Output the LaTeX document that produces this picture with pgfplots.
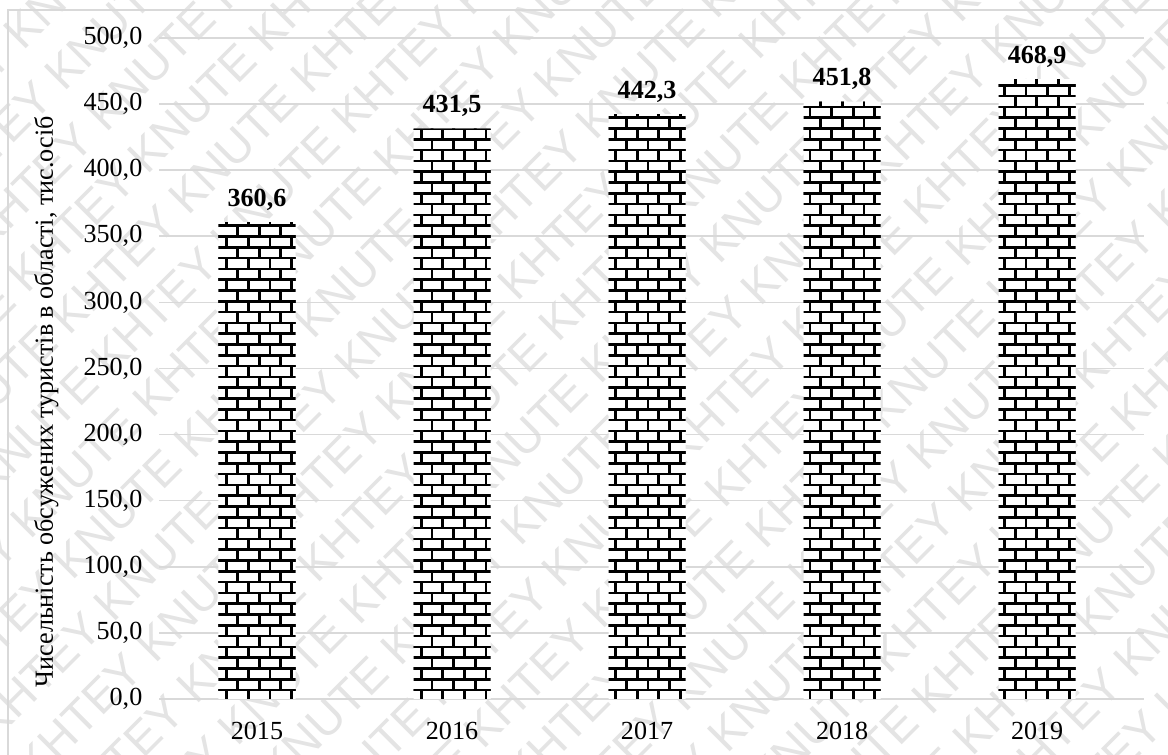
\documentclass[border=0pt]{standalone}
\usepackage{pgfplots}
\pgfplotsset{compat=1.18}
\usepackage{fontspec}
\setmainfont{Liberation Serif}
\newfontfamily\wmfont{Liberation Sans}
\usetikzlibrary{patterns}
\pgfdeclarepatternformonly{mybricks}{\pgfqpoint{-0.8pt}{-0.8pt}}{\pgfqpoint{12.8pt}{12.8pt}}{\pgfqpoint{12pt}{12pt}}{%
  \pgfsetlinewidth{1.5pt}%
  \pgfsetrectcap
  \pgfpathmoveto{\pgfqpoint{-0.8pt}{0pt}}\pgfpathlineto{\pgfqpoint{12.8pt}{0pt}}%
  \pgfpathmoveto{\pgfqpoint{-0.8pt}{6pt}}\pgfpathlineto{\pgfqpoint{12.8pt}{6pt}}%
  \pgfpathmoveto{\pgfqpoint{-0.8pt}{12pt}}\pgfpathlineto{\pgfqpoint{12.8pt}{12pt}}%
  \pgfpathmoveto{\pgfqpoint{0pt}{0pt}}\pgfpathlineto{\pgfqpoint{0pt}{6pt}}%
  \pgfpathmoveto{\pgfqpoint{12pt}{0pt}}\pgfpathlineto{\pgfqpoint{12pt}{6pt}}%
  \pgfpathmoveto{\pgfqpoint{6pt}{6pt}}\pgfpathlineto{\pgfqpoint{6pt}{12pt}}%
  \pgfusepath{stroke}%
}
\definecolor{gridgray}{HTML}{D9D9D9}
\definecolor{wmgray}{HTML}{E4E4E4}
\begin{document}
\begin{tikzpicture}
\path[use as bounding box, fill=white] (-88.6pt,-31.1pt) rectangle (560.3pt,388.3pt);
\foreach \i in {-14,...,14}{
  \node[rotate=45, text=wmgray, font=\wmfont\fontsize{26pt}{30pt}\selectfont, inner sep=0pt]
    at ({236pt-\i*23pt},{178pt+\i*23pt})
    {KHTEY KNUTE KHTEY KNUTE KHTEY KNUTE KHTEY KNUTE KHTEY KNUTE KHTEY KNUTE};
}
\draw[gridgray, line width=0.9pt] (-84.2pt,-40pt) -- (-84.2pt,382.8pt) -- (570pt,382.8pt);
\begin{axis}[
  at={(0pt,0pt)}, anchor=south west,
  scale only axis,
  width=547.2pt, height=367.2pt,
  xmin=-0.5, xmax=4.55,
  ymin=0, ymax=500,
  ytick={0,50,...,500},
  xtick=data,
  xticklabels={2015,2016,2017,2018,2019},
  axis line style={draw=none},
  tick style={draw=none},
  ymajorgrids,
  major grid style={gridgray, line width=0.9pt},
  font=\fontsize{14.5pt}{17pt}\selectfont,
  /pgf/number format/.cd, fixed, fixed zerofill, precision=1, use comma, assume math mode=true,
  /pgfplots/.cd,
  yticklabel style={xshift=-6pt},
  xticklabel style={yshift=-5pt},
  ybar, bar width=42.8pt,
  nodes near coords,
  nodes near coords style={font=\fontsize{14.5pt}{17pt}\selectfont\bfseries, yshift=3pt},
  clip=false,
]
\addplot[draw=none, fill=white, postaction={pattern=mybricks, pattern color=black}] coordinates {(0,360.6) (1,431.5) (2,442.3) (3,451.8) (4,468.9)};
\end{axis}
\node[rotate=90, font=\fontsize{14.5pt}{17pt}\selectfont] at (-62.8pt,165pt) {Чисельність обсужених туристів в області, тис.осіб};
\end{tikzpicture}
\end{document}
